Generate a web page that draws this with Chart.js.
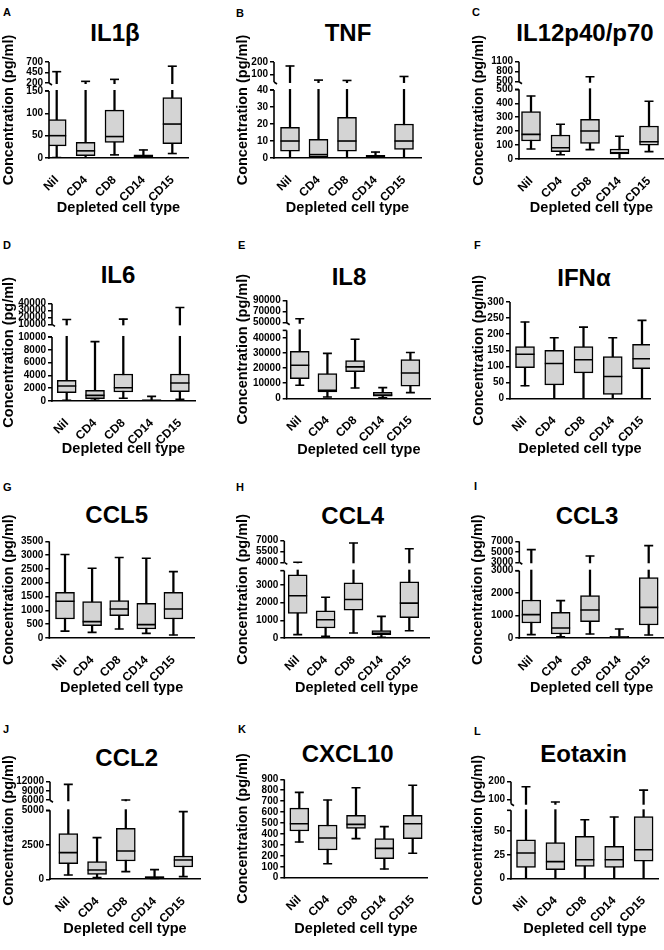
<!DOCTYPE html>
<html>
<head>
<meta charset="utf-8">
<script src="https://cdn.jsdelivr.net/npm/chart.js@4.4.1/dist/chart.umd.min.js"></script>
<style>
html, body { margin: 0; padding: 0; background: #fff; overflow: hidden; }
body { width: 664px; height: 950px; position: relative; font-family: 'Liberation Sans', Arial, Helvetica, sans-serif; }
canvas { position: absolute; }
.letter { position: absolute; font-weight: bold; font-size: 11px; line-height: 1; }
.name { position: absolute; font-weight: bold; font-size: 24px; line-height: 1; white-space: nowrap; transform: translate(-50%, -50%); }
</style>
</head>
<body>
<script>
const cellTypes = ['Nil', 'CD4', 'CD8', 'CD14', 'CD15'];

// one row per cell type: [min, q1, median, q3, max] in pg/ml
const il1b = [[1, 27, 50, 86, 470], [0, 5, 16, 35, 240], [7, 35, 48, 107, 287], [0, 0.5, 3, 7, 18], [10, 32, 76, 135, 600]];
const tnf = [[0, 4, 10, 18, 168], [0, 0.5, 2, 11, 55], [0, 4, 10, 24, 52], [0, 0.3, 1, 1.5, 3.5], [0, 5, 10, 20, 84]];
const il12 = [[72, 129, 177, 340, 452], [31, 53, 81, 172, 249], [67, 112, 201, 285, 650], [2, 36, 45, 72, 163], [53, 100, 124, 237, 414]];
const il6 = [[100, 1300, 2340, 3230, 17000], [100, 365, 885, 1670, 9270], [420, 1400, 2080, 4220, 17500], [0, 50, 100, 160, 730], [260, 1460, 2810, 4220, 34500]];
const il8 = [[8620, 13040, 21880, 31160, 57000], [880, 4200, 5300, 16350, 29800], [6850, 17700, 20800, 25000, 39100], [300, 1330, 2210, 3980, 7070], [3760, 7960, 16800, 25600, 30300]];
const ifna = [[40, 96, 138, 162, 238], [0, 43, 109, 150, 189], [0, 80, 121, 162, 222], [0, 13, 69, 131, 189], [0, 93, 124, 169, 243]];
const ccl5 = [[250, 689, 1329, 1655, 3020], [205, 447, 592, 1317, 2525], [326, 809, 1051, 1353, 2911], [169, 326, 483, 1256, 2887], [109, 689, 1051, 1655, 2404]];
const ccl4 = [[188, 1388, 2383, 3564, 4000], [94, 563, 1032, 1538, 2300], [281, 1576, 2176, 3114, 6680], [38, 188, 263, 413, 1219], [413, 1144, 1970, 3170, 5890]];
const ccl3 = [[149, 669, 1040, 1694, 5413], [59, 178, 446, 1144, 1664], [178, 728, 1248, 1887, 4206], [0, 15, 30, 74, 401], [134, 580, 1367, 2690, 6175]];
const ccl2 = [[314, 1135, 1932, 3309, 11136], [121, 362, 676, 1280, 3019], [555, 1328, 2053, 3695, 6100], [0, 72, 121, 193, 700], [193, 893, 1400, 1690, 4902]];
const cxcl10 = [[326, 427, 494, 637, 780], [128, 253, 363, 482, 711], [357, 451, 488, 570, 823], [79, 174, 268, 357, 467], [223, 357, 494, 570, 845]];
const eotaxin = [[0, 12, 27, 41, 171], [0, 9.6, 18, 38, 85], [0, 13, 20, 44.5, 62], [0, 12, 20, 34, 65], [0, 18.5, 30.5, 65.4, 152]];

// y tick labels: lower segment, upper segment (above the axis break)
const il1bTicks = [0, 50, 100, 150], il1bTicksUp = [200, 450, 700];
const tnfTicks = [0, 10, 20, 30, 40], tnfTicksUp = [100, 200];
const il12Ticks = [0, 100, 200, 300, 400, 500], il12TicksUp = [500, 800, 1100];
const il6Ticks = [0, 2000, 4000, 6000, 8000, 10000], il6TicksUp = [10000, 20000, 30000, 40000];
const il8Ticks = [0, 10000, 20000, 30000, 40000], il8TicksUp = [50000, 70000, 90000];
const ifnaTicks = [0, 50, 100, 150, 200, 250, 300];
const ccl5Ticks = [0, 500, 1000, 1500, 2000, 2500, 3000, 3500];
const ccl4Ticks = [0, 1000, 2000, 3000], ccl4TicksUp = [4000, 5500, 7000];
const ccl3Ticks = [0, 1000, 2000, 3000], ccl3TicksUp = [3000, 5000, 7000];
const ccl2Ticks = [0, 2500, 5000], ccl2TicksUp = [6000, 9000, 12000];
const cxcl10Ticks = [0, 100, 200, 300, 400, 500, 600, 700, 800, 900];
const eotaxinTicks = [0, 25, 50], eotaxinTicksUp = [100, 200];

// axis break: [top of lower segment, bottom of upper segment]
const il1bBreak = [150, 200], tnfBreak = [40, 40], il12Break = [500, 500], il6Break = [10000, 10000];
const il8Break = [45000, 50000], ccl4Break = [3800, 4000], ccl3Break = [3000, 3000];
const ccl2Break = [5000, 6000], eotaxinBreak = [72, 75];

const panels = [
  { id: 'A', name: 'IL1β', stats: il1b, lo: il1bTicks, hi: il1bTicksUp, brk: il1bBreak },
  { id: 'B', name: 'TNF', stats: tnf, lo: tnfTicks, hi: tnfTicksUp, brk: tnfBreak },
  { id: 'C', name: 'IL12p40/p70', stats: il12, lo: il12Ticks, hi: il12TicksUp, brk: il12Break },
  { id: 'D', name: 'IL6', stats: il6, lo: il6Ticks, hi: il6TicksUp, brk: il6Break },
  { id: 'E', name: 'IL8', stats: il8, lo: il8Ticks, hi: il8TicksUp, brk: il8Break },
  { id: 'F', name: 'IFNα', stats: ifna, lo: ifnaTicks, hi: [], brk: null },
  { id: 'G', name: 'CCL5', stats: ccl5, lo: ccl5Ticks, hi: [], brk: null },
  { id: 'H', name: 'CCL4', stats: ccl4, lo: ccl4Ticks, hi: ccl4TicksUp, brk: ccl4Break },
  { id: 'I', name: 'CCL3', stats: ccl3, lo: ccl3Ticks, hi: ccl3TicksUp, brk: ccl3Break },
  { id: 'J', name: 'CCL2', stats: ccl2, lo: ccl2Ticks, hi: ccl2TicksUp, brk: ccl2Break },
  { id: 'K', name: 'CXCL10', stats: cxcl10, lo: cxcl10Ticks, hi: [], brk: null },
  { id: 'L', name: 'Eotaxin', stats: eotaxin, lo: eotaxinTicks, hi: eotaxinTicksUp, brk: eotaxinBreak }
];

// page layout of each panel (pixels)
const frames = {
  A: { col: 0, row: 0, ax: 49, right: 188, top: 62, bottom: 158, c0: 56.7, sp: 28.9, fl: .698, fu: .219, tx: 115, ty: 33, lx: 3, ly: 8, ytx: 7.5, xty: 207 },
  B: { col: 1, row: 0, ax: 274, right: 421, top: 62, bottom: 158, c0: 290, sp: 28.5, fl: .708, fu: .208, tx: 348, ty: 33, lx: 236, ly: 9, ytx: 243, xty: 207 },
  C: { col: 2, row: 0, ax: 519, right: 664, top: 61.7, bottom: 159, c0: 531, sp: 29.5, fl: .716, fu: .206, tx: 585, ty: 33, lx: 472, ly: 8, ytx: 479, xty: 207 },
  D: { col: 0, row: 1, ax: 52, right: 195, top: 303.7, bottom: 401, c0: 66.7, sp: 28.3, fl: .658, fu: .212, tx: 118, ty: 275, lx: 3, ly: 241, ytx: 8, xty: 447.7 },
  E: { col: 1, row: 1, ax: 286.7, right: 433.7, top: 300.3, bottom: 398.3, c0: 300, sp: 28.2, fl: .693, fu: .229, tx: 349, ty: 277, lx: 238, ly: 241, ytx: 243, xty: 448.7 },
  F: { col: 2, row: 1, ax: 510, right: 650, top: 302, bottom: 398.7, c0: 525, sp: 29.25, tx: 584, ty: 277.7, lx: 474, ly: 241, ytx: 478.7, xty: 447.7 },
  G: { col: 0, row: 2, ax: 49.3, right: 194, top: 541.3, bottom: 638, c0: 65, sp: 27.1, tx: 116.7, ty: 514.7, lx: 3, ly: 483, ytx: 8.3, xty: 686.7 },
  H: { col: 1, row: 2, ax: 284.3, right: 429, top: 540.7, bottom: 638, c0: 297.7, sp: 27.9, fl: .692, fu: .222, tx: 352.7, ty: 515.7, lx: 236, ly: 483, ytx: 242.7, xty: 687.3 },
  I: { col: 2, row: 2, ax: 519.3, right: 664, top: 541.3, bottom: 638, c0: 531.3, sp: 29.35, fl: .696, fu: .217, tx: 587, ty: 515.7, lx: 474, ly: 482, ytx: 478, xty: 687.3 },
  J: { col: 0, row: 3, ax: 50, right: 200, top: 781.7, bottom: 879.3, c0: 68.3, sp: 28.75, fl: .707, fu: .19, tx: 126.7, ty: 757.7, lx: 3, ly: 725, ytx: 7.3, xty: 927.7 },
  K: { col: 1, row: 3, ax: 284.3, right: 427.7, top: 779.3, bottom: 877.7, c0: 299.3, sp: 28.35, tx: 347.7, ty: 754.3, lx: 238, ly: 725, ytx: 242.7, xty: 927.7 },
  L: { col: 2, row: 3, ax: 511, right: 658.7, top: 781.7, bottom: 878.7, c0: 526, sp: 29.4, fl: .705, fu: .227, tx: 583.7, ty: 754.3, lx: 474, ly: 727, ytx: 478, xty: 927.7 }
};
const colLeft = [0, 221, 442], colWidth = [221, 221, 240];
const rowTop = [0, 237, 474, 711], rowHeight = [237, 237, 237, 239];

Chart.defaults.font.family = "'Liberation Sans', Arial, Helvetica, sans-serif";
Chart.defaults.color = '#000';

// linear scale with an optional break: lower segment, small gap, compressed upper segment
class BrokenScale extends Chart.LinearScale {
  static id = 'broken';
  buildTicks() {
    const o = this.options;
    const lower = o.loTicks.map(v => ({ value: v }));
    const upper = (o.hiTicks || []).map(v => ({ value: v, upper: true }));
    return lower.concat(upper);
  }
  brokenDecimal(v, upper) {
    const o = this.options;
    if (o.brkLo == null) return (v - this.min) / (this.max - this.min);
    if (v <= o.brkLo && !upper) return v / o.brkLo * o.fracLo;
    if (v < o.brkHi) return o.fracLo + (v - o.brkLo) / (o.brkHi - o.brkLo) * (1 - o.fracLo - o.fracHi);
    return 1 - o.fracHi + (v - o.brkHi) / (this.max - o.brkHi) * o.fracHi;
  }
  getPixelForValue(v) {
    return this.getPixelForDecimal(this.brokenDecimal(v, false));
  }
  getPixelForTick(i) {
    const t = this.ticks[i];
    return t ? this.getPixelForDecimal(this.brokenDecimal(t.value, t.upper)) : null;
  }
}
Chart.register(BrokenScale);

function strokeLine(ctx, x1, y1, x2, y2) {
  ctx.beginPath();
  ctx.moveTo(x1, y1);
  ctx.lineTo(x2, y2);
  ctx.stroke();
}

// y axis line drawn in pieces, white gap through whiskers at the break
const brokenAxis = {
  id: 'brokenAxis',
  afterDatasetsDraw(chart) {
    const ctx = chart.ctx, a = chart.chartArea, y = chart.scales.y, o = y.options;
    const x0 = a.left;
    ctx.save();
    ctx.strokeStyle = '#000';
    ctx.lineWidth = 1.6;
    if (o.brkLo == null) {
      strokeLine(ctx, x0, a.bottom + 0.8, x0, a.top);
    } else {
      const yLo = y.getPixelForDecimal(y.brokenDecimal(o.brkLo, false));
      const yHi = y.getPixelForDecimal(y.brokenDecimal(o.brkHi, true));
      ctx.fillStyle = '#fff';
      ctx.fillRect(x0 + 1, yHi + 1, a.right - x0, yLo - yHi - 2);
      strokeLine(ctx, x0, a.bottom + 0.8, x0, yLo);
      strokeLine(ctx, x0, yHi, x0, a.top);
      strokeLine(ctx, x0 - 4, yLo, x0, yLo);
      strokeLine(ctx, x0, yHi, x0 + 3, yHi + 2);
    }
    ctx.restore();
  }
};

function drawPanel(p) {
  const f = frames[p.id];
  const L = colLeft[f.col], T = rowTop[f.row], W = colWidth[f.col], H = rowHeight[f.row];

  const letter = document.createElement('div');
  letter.className = 'letter';
  letter.textContent = p.id;
  letter.style.left = f.lx + 'px';
  letter.style.top = (f.ly - 1) + 'px';
  document.body.appendChild(letter);

  const name = document.createElement('div');
  name.className = 'name';
  name.textContent = p.name;
  name.style.left = f.tx + 'px';
  name.style.top = f.ty + 'px';
  document.body.appendChild(name);

  const cv = document.createElement('canvas');
  cv.width = W; cv.height = H;
  cv.style.left = L + 'px'; cv.style.top = T + 'px';
  cv.style.width = W + 'px'; cv.style.height = H + 'px';
  document.body.appendChild(cv);

  const xmin = -(f.c0 - f.ax) / f.sp;
  const xmax = xmin + (f.right - f.ax) / f.sp;
  const ymax = p.hi.length ? p.hi[p.hi.length - 1] : p.lo[p.lo.length - 1];

  const whiskers = p.stats.map((s, i) => ({ x: i, y: [s[0], s[4]] }));
  const boxes = p.stats.map((s, i) => ({ x: i, y: [s[1], s[3]] }));
  const medians = p.stats.map((s, i) => ({ x: i, y: s[2] }));
  const caps = p.stats.flatMap((s, i) => [{ x: i, y: s[0] }, { x: i, y: s[4] }]);

  new Chart(cv, {
    type: 'bar',
    data: {
      datasets: [
        { type: 'bar', data: whiskers, grouped: false, barThickness: 1.6, backgroundColor: '#000', borderWidth: 0, order: 3 },
        { type: 'bar', data: boxes, grouped: false, barThickness: 19, backgroundColor: '#d4d4d4', borderColor: '#000', borderWidth: 1.5, borderSkipped: false, order: 2 },
        { type: 'scatter', data: medians, pointStyle: 'line', radius: 9.5, borderColor: '#000', borderWidth: 1.6, order: 1 },
        { type: 'scatter', data: caps, pointStyle: 'line', radius: 4.5, borderColor: '#000', borderWidth: 1.6, order: 1 }
      ]
    },
    options: {
      responsive: false,
      animation: false,
      events: [],
      layout: { padding: { left: 0, top: f.top - T, right: L + W - f.right, bottom: 0 } },
      plugins: { legend: { display: false }, tooltip: { enabled: false } },
      scales: {
        x: {
          type: 'linear',
          offset: false,
          min: xmin,
          max: xmax,
          afterBuildTicks: s => { s.ticks = cellTypes.map((c, i) => ({ value: i })); },
          afterFit: s => { s.height = T + H - f.bottom; },
          grid: { display: false, offset: false },
          border: { display: true, color: '#000', width: 1.6 },
          ticks: { autoSkip: false, minRotation: 45, maxRotation: 45, padding: 7, font: { size: 12, weight: 'bold' }, callback: v => cellTypes[v] },
          title: { display: true, text: 'Depleted cell type', font: { size: 14.5, weight: 'bold', lineHeight: 1.2 }, padding: { top: 0, bottom: T + H - f.xty - 9.7 } }
        },
        y: {
          type: 'broken',
          min: 0,
          max: ymax,
          loTicks: p.lo,
          hiTicks: p.hi,
          brkLo: p.brk ? p.brk[0] : null,
          brkHi: p.brk ? p.brk[1] : null,
          fracLo: f.fl,
          fracHi: f.fu,
          afterFit: s => { s.width = f.ax - L; },
          border: { display: false },
          grid: { display: true, drawOnChartArea: false, drawTicks: true, tickLength: 4, color: '#000', lineWidth: 1.5 },
          ticks: { autoSkip: false, padding: 2, font: { size: 10, weight: 'bold' }, callback: v => String(v) },
          title: { display: true, text: 'Concentration (pg/ml)', font: { size: 14.5, weight: 'bold', lineHeight: 1.2 }, padding: { top: Math.max(0, f.ytx - L - 8.7), bottom: 0 } }
        }
      }
    },
    plugins: [brokenAxis]
  });
}

panels.forEach(drawPanel);
</script>
</body>
</html>
